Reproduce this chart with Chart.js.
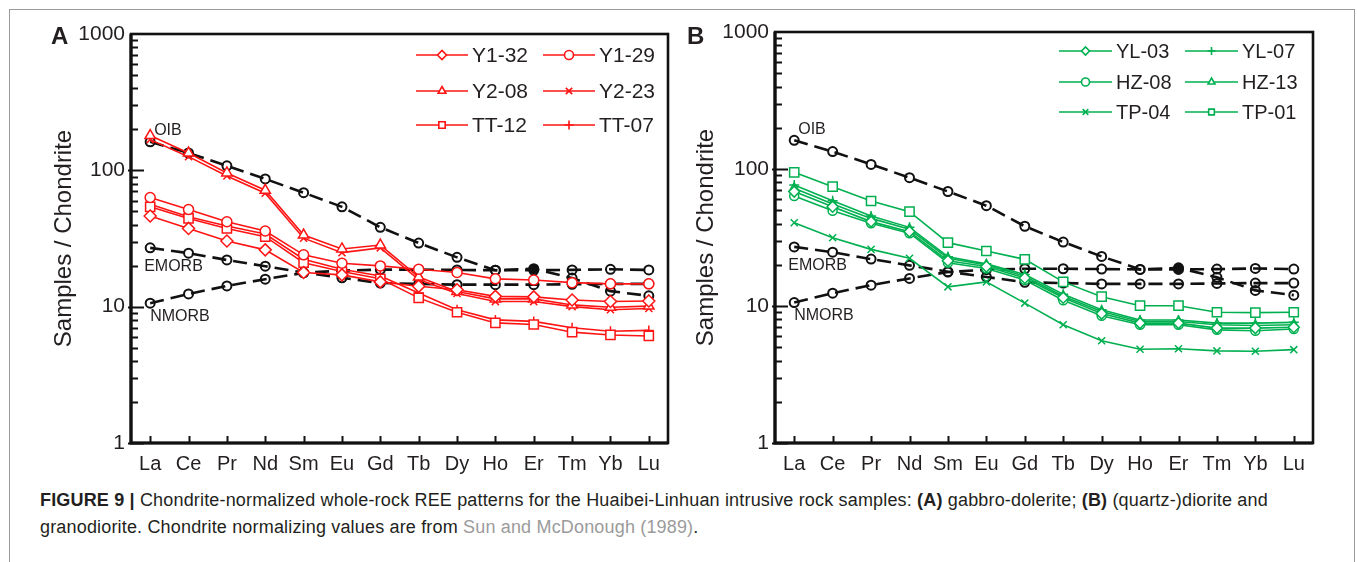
<!DOCTYPE html>
<html>
<head>
<meta charset="utf-8">
<script src="https://cdn.jsdelivr.net/npm/chart.js@4.4.0/dist/chart.umd.min.js"></script>
<style>
  html, body { margin: 0; padding: 0; background: #fff; }
  body { width: 1357px; height: 562px; position: relative; overflow: hidden;
         font-family: "Liberation Sans", Arial, sans-serif; color: #231f20; }
  .frame { position: absolute; left: 9px; top: 9px; width: 1346px; height: 600px;
           border: 1px solid #9a9a9a; box-sizing: border-box; }
  canvas { position: absolute; top: 0; }
  #chartA { left: 0; }
  #chartB { left: 676px; }
  .letter { position: absolute; top: 22px; font-weight: bold; font-size: 24px; }
  .caption { position: absolute; left: 40px; top: 487px; font-size: 18px; line-height: 27px;
             letter-spacing: 0.17px; white-space: nowrap; }
  .caption a { color: #9b9b9b; text-decoration: none; }
</style>
</head>
<body>
<div class="frame"></div>
<canvas id="chartA" width="676" height="480"></canvas>
<canvas id="chartB" width="674" height="480"></canvas>
<div class="letter" style="left:51px">A</div>
<div class="letter" style="left:687px">B</div>
<div class="caption"><b>FIGURE 9 |</b> Chondrite-normalized whole-rock REE patterns for the Huaibei-Linhuan intrusive rock samples: <b>(A)</b> gabbro-dolerite; <b>(B)</b> (quartz-)diorite and<br>granodiorite. Chondrite normalizing values are from <a>Sun and McDonough (1989)</a>.</div>

<script>
// REE on the x axis
const elements = ["La", "Ce", "Pr", "Nd", "Sm", "Eu", "Gd", "Tb", "Dy", "Ho", "Er", "Tm", "Yb", "Lu"];
const yTicks = [1, 10, 100, 1000];

// reference curves (same in both panels)
const oib   = [162, 134, 108, 86.5, 68.5, 54, 38.2, 29.3, 23, 18.5, 19, 16.2, 13, 12];
const emorb = [27, 24.7, 22, 19.8, 17.8, 16.3, 14.9, 14.7, 14.5, 14.5, 14.5, 14.6, 14.7, 14.7];
const nmorb = [10.6, 12.4, 14.2, 15.9, 17.7, 18.4, 18.7, 18.7, 18.6, 18.5, 18.5, 18.6, 18.8, 18.6];

// panel A - gabbro-dolerite
const y1_32 = [46.2, 37.5, 30.3, 26.1, 17.8, 17.1, 15.2, 14.1, 13.3, 11.9, 11.8, 11.2, 10.9, 11.0];
const y1_29 = [63.2, 51.6, 42, 35.9, 24, 20.8, 19.9, 18.8, 17.8, 16.0, 15.7, 15.0, 14.7, 14.7];
const y2_08 = [180, 134, 95.6, 71.4, 33.5, 26.5, 28.3, 16.5, 12.9, 11.4, 11.4, 10.3, 9.9, 10.1];
const y2_23 = [168, 126, 90.8, 68, 31.8, 24.9, 27, 15.8, 12.5, 10.9, 10.9, 10.0, 9.5, 9.7];
const tt_12 = [54, 44.4, 37.5, 32.6, 21, 18.1, 16, 11.6, 9.1, 7.6, 7.4, 6.5, 6.2, 6.1];
const tt_07 = [56.5, 45.6, 39, 34.1, 22.3, 18.8, 16.8, 12.6, 9.5, 8.0, 7.8, 7.0, 6.6, 6.7];

// panel B - (quartz-)diorite and granodiorite
const yl_03 = [68.4, 53.1, 41.3, 34.9, 21.4, 19.4, 16, 11.5, 8.8, 7.5, 7.5, 6.9, 6.9, 7.0];
const yl_07 = [76.4, 58.7, 45.4, 37.5, 22.9, 20.3, 17, 12.2, 9.4, 7.9, 7.9, 7.5, 7.5, 7.6];
const hz_08 = [63.5, 49.6, 40.2, 34, 20.7, 18.8, 15.5, 11.0, 8.5, 7.3, 7.3, 6.7, 6.6, 6.8];
const hz_13 = [72.3, 55.6, 43.6, 36.3, 22.3, 19.9, 16.5, 11.8, 9.1, 7.7, 7.7, 7.3, 7.2, 7.3];
const tp_04 = [40.5, 31.5, 25.9, 22.3, 13.8, 15.0, 10.5, 7.3, 5.58, 4.83, 4.87, 4.7, 4.67, 4.8];
const tp_01 = [94.6, 74.3, 58.4, 48.8, 29, 25.2, 21.9, 15.0, 11.7, 10.05, 10.05, 9.0, 8.95, 9.0];

const RED = "rgb(255,20,20)";
const GREEN = "rgb(0,176,80)";
const INK = "#231f20";
const FONT = "'Liberation Sans', Arial, sans-serif";

function sample(label, data, color, style, r) {
  return {
    label, data, sample: true,
    borderColor: color, borderWidth: 1.6,
    pointStyle: style, pointRadius: r, pointHoverRadius: r,
    pointBorderColor: color, pointBackgroundColor: "#fff", pointBorderWidth: 1.5
  };
}

function reference(label, data) {
  return {
    label, data, refLabel: label,
    borderColor: "#111", borderWidth: 2.6, borderDash: [14, 7],
    pointStyle: "circle", pointRadius: 4.5, pointHoverRadius: 4.5,
    pointBorderColor: "#111", pointBorderWidth: 2,
    pointBackgroundColor: data.map((v, i) => (label === "OIB" && i === 10) ? "#111" : "rgba(0,0,0,0)")
  };
}

// inward ticks + box frame
const frameTicks = {
  id: "frameTicks",
  afterDraw(chart) {
    const { ctx, chartArea: a, scales: { x, y } } = chart;
    ctx.save();
    ctx.strokeStyle = "#111";
    ctx.lineWidth = 2;
    ctx.beginPath();
    for (let d = 1; d < 1000; d *= 10) {
      for (let m = 1; m < 10; m++) {
        const py = Math.round(y.getPixelForValue(d * m)) + 0.5;
        const len = m === 1 ? 13 : 7;
        ctx.moveTo(a.left - (m === 1 ? 3 : 0), py);
        ctx.lineTo(a.left + len, py);
      }
    }
    x.ticks.forEach((t, i) => {
      const px = Math.round(x.getPixelForTick(i)) + 0.5;
      ctx.moveTo(px, a.bottom);
      ctx.lineTo(px, a.bottom - 7);
    });
    ctx.stroke();
    ctx.lineWidth = 2.6;
    ctx.strokeRect(a.left, a.top, a.right - a.left, a.bottom - a.top);
    ctx.lineWidth = 3.2;
    ctx.beginPath();
    ctx.moveTo(a.left, a.top);
    ctx.lineTo(a.left, a.bottom);
    ctx.lineTo(a.right, a.bottom);
    ctx.stroke();
    ctx.restore();
  }
};

// OIB / EMORB / NMORB names next to the La point
const refNames = {
  id: "refNames",
  afterDatasetsDraw(chart) {
    const { ctx } = chart;
    const shift = { OIB: [4, -11], EMORB: [-6, 19], NMORB: [0, 13] };
    ctx.save();
    ctx.font = "16px " + FONT;
    ctx.fillStyle = INK;
    ctx.textBaseline = "middle";
    chart.data.datasets.forEach((ds, i) => {
      if (!ds.refLabel) return;
      const p = chart.getDatasetMeta(i).data[0];
      const [dx, dy] = shift[ds.refLabel];
      ctx.fillText(ds.refLabel, p.x + dx, p.y + dy);
    });
    ctx.restore();
  }
};

// two column legend with line + marker
const sampleLegend = {
  id: "sampleLegend",
  afterDraw(chart, args, opts) {
    const { ctx } = chart;
    const items = chart.data.datasets.filter(ds => ds.sample);
    ctx.save();
    ctx.font = opts.font + "px " + FONT;
    ctx.textBaseline = "middle";
    items.forEach((ds, i) => {
      const x0 = opts.cols[i % 2], yy = opts.rows[Math.floor(i / 2)];
      ctx.strokeStyle = ds.borderColor;
      ctx.lineWidth = 1.6;
      ctx.beginPath();
      ctx.moveTo(x0, yy);
      ctx.lineTo(x0 + opts.lineLen, yy);
      ctx.stroke();
      ctx.fillStyle = "#fff";
      Chart.helpers.drawPoint(ctx, { pointStyle: ds.pointStyle, radius: opts.r, rotation: 0, borderWidth: 1.5 },
        x0 + opts.lineLen / 2, yy);
      ctx.fillStyle = INK;
      ctx.fillText(ds.label, x0 + opts.lineLen + 4, yy + 1);
    });
    ctx.restore();
  }
};

function makeChart(id, samples, lay) {
  return new Chart(document.getElementById(id), {
    type: "line",
    data: {
      labels: elements,
      datasets: samples.concat([reference("OIB", oib), reference("EMORB", emorb), reference("NMORB", nmorb)])
    },
    options: {
      responsive: false,
      animation: false,
      layout: { padding: { top: lay.top, right: lay.right, left: 0, bottom: 0 } },
      elements: { line: { tension: 0 } },
      plugins: {
        legend: { display: false },
        tooltip: { enabled: false },
        sampleLegend: lay.legend
      },
      scales: {
        x: {
          type: "category",
          offset: true,
          grid: { display: false, drawTicks: false },
          border: { display: false },
          ticks: { color: INK, font: { size: 20, family: FONT }, padding: 9, autoSkip: false, maxRotation: 0 },
          afterFit: s => { s.height = 37; }
        },
        y: {
          type: "logarithmic",
          min: 1, max: 1000,
          grid: { display: false, drawTicks: false },
          border: { display: false },
          afterBuildTicks: s => { s.ticks = yTicks.map(v => ({ value: v })); },
          ticks: { color: INK, font: { size: 21, family: FONT }, padding: 6, callback: v => String(v) },
          title: { display: true, text: "Samples / Chondrite", color: INK,
                   font: { size: 24, family: FONT }, padding: { top: lay.titlePad, bottom: 0 } },
          afterFit: s => { s.width = lay.axisWidth; }
        }
      }
    },
    plugins: [frameTicks, refNames, sampleLegend]
  });
}

makeChart("chartA", [
  sample("Y1-32", y1_32, RED, "rectRot", 6),
  sample("Y1-29", y1_29, RED, "circle", 5),
  sample("Y2-08", y2_08, RED, "triangle", 6),
  sample("Y2-23", y2_23, RED, "crossRot", 5),
  sample("TT-12", tt_12, RED, "rect", 6.5),
  sample("TT-07", tt_07, RED, "cross", 5)
], { top: 34, right: 5, axisWidth: 131, titlePad: 50,
     legend: { cols: [416, 543], rows: [55, 91, 125], lineLen: 52, r: 4.5, font: 21 } });

makeChart("chartB", [
  sample("YL-03", yl_03, GREEN, "rectRot", 5.5),
  sample("YL-07", yl_07, GREEN, "cross", 5),
  sample("HZ-08", hz_08, GREEN, "circle", 4.5),
  sample("HZ-13", hz_13, GREEN, "triangle", 5.5),
  sample("TP-04", tp_04, GREEN, "crossRot", 5),
  sample("TP-01", tp_01, GREEN, "rect", 6.5)
], { top: 32, right: 37, axisWidth: 99, titlePad: 16,
     legend: { cols: [383, 509], rows: [51, 82, 112], lineLen: 53, r: 4, font: 20 } });
</script>
</body>
</html>
